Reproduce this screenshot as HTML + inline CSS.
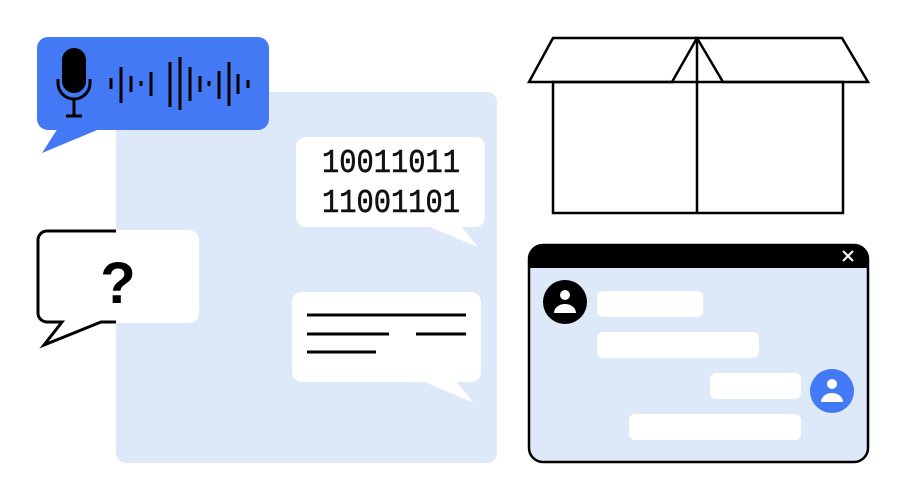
<!DOCTYPE html>
<html><head><style>
html,body{margin:0;padding:0;background:#fff;width:907px;height:500px;overflow:hidden}
</style></head><body>
<svg width="907" height="500" viewBox="0 0 907 500" xmlns="http://www.w3.org/2000/svg">
<rect x="116" y="92" width="381" height="371" rx="10" fill="#dde8f9"/>
<!-- blue voice bubble -->
<rect x="37" y="37" width="232" height="93" rx="11" fill="#4479f5"/>
<polygon points="58,128 102,128 42,153" fill="#4479f5"/>
<rect x="62" y="48" width="24" height="45" rx="12" fill="#000"/>
<path d="M58 79 v4 a16 16 0 0 0 32 0 v-4" fill="none" stroke="#000" stroke-width="3"/>
<line x1="74" y1="99" x2="74" y2="116" stroke="#000" stroke-width="3"/>
<line x1="66" y1="116" x2="82" y2="116" stroke="#000" stroke-width="3"/>
<g stroke="#000" stroke-width="3">
<line x1="111" y1="78" x2="111" y2="89"/>
<line x1="121" y1="67" x2="121" y2="103"/>
<line x1="131" y1="76" x2="131" y2="92"/>
<line x1="141" y1="81" x2="141" y2="86"/>
<line x1="151" y1="72" x2="151" y2="96"/>
<line x1="170" y1="62" x2="170" y2="107"/>
<line x1="180" y1="57" x2="180" y2="110"/>
<line x1="190" y1="67" x2="190" y2="101"/>
<line x1="200" y1="76" x2="200" y2="92"/>
<line x1="209" y1="81" x2="209" y2="86"/>
<line x1="219" y1="71" x2="219" y2="99"/>
<line x1="229" y1="62" x2="229" y2="106"/>
<line x1="238" y1="74" x2="238" y2="94"/>
<line x1="248" y1="80" x2="248" y2="88"/>
</g>
<!-- question bubble -->
<rect x="37" y="230" width="162" height="93" rx="10" fill="#fff"/>
<path d="M116 231 H47 a9 9 0 0 0 -9 9 V313 a9 9 0 0 0 9 9 H62 L44 345 L101 322 H116" fill="none" stroke="#000" stroke-width="3" stroke-linejoin="miter"/>
<text x="118" y="303" font-family="Liberation Sans, sans-serif" font-weight="bold" font-size="58" fill="#000" text-anchor="middle">?</text>
<!-- binary bubble -->
<rect x="296" y="137" width="189" height="90" rx="10" fill="#fff"/>
<polygon points="425,225 460,225 478,247" fill="#fff"/>
<g font-family="Liberation Mono, monospace" font-size="33" fill="#111" stroke="#111" stroke-width="0.6">
<text x="322" y="172" textLength="138" lengthAdjust="spacingAndGlyphs">10011011</text>
<text x="322" y="212" textLength="138" lengthAdjust="spacingAndGlyphs">11001101</text>
</g>
<!-- lines bubble -->
<rect x="292" y="292" width="189" height="90" rx="10" fill="#fff"/>
<polygon points="420,380 455,380 474,403" fill="#fff"/>
<g stroke="#000" stroke-width="3">
<line x1="307" y1="315" x2="466" y2="315"/>
<line x1="307" y1="334" x2="389" y2="334"/>
<line x1="416" y1="334" x2="466" y2="334"/>
<line x1="307" y1="352" x2="376" y2="352"/>
</g>
<!-- box -->
<g fill="none" stroke="#000" stroke-width="2.5" stroke-linejoin="miter">
<rect x="553" y="82" width="290" height="131"/>
<polygon points="553,38 697,38 672,82 529,82"/>
<polygon points="697,38 842,38 868,82 723,82"/>
<line x1="697" y1="38" x2="697" y2="213"/>
</g>
<!-- chat window -->
<rect x="529" y="245" width="339" height="217" rx="14" fill="#dde8f9" stroke="#000" stroke-width="2.5"/>
<path d="M543 245 H854 a14 14 0 0 1 14 14 V268 H529 V259 a14 14 0 0 1 14 -14 Z" fill="#000"/>
<g stroke="#fff" stroke-width="2"><line x1="843" y1="251" x2="853" y2="261"/><line x1="853" y1="251" x2="843" y2="261"/></g>
<circle cx="565" cy="302" r="22" fill="#000"/>
<circle cx="565" cy="295" r="5" fill="#fff"/>
<path d="M554 313 a11 9 0 0 1 22 0 Z" fill="#fff"/>
<circle cx="832" cy="391" r="22" fill="#4479f5"/>
<circle cx="832" cy="384" r="5" fill="#fff"/>
<path d="M821 402 a11 9 0 0 1 22 0 Z" fill="#fff"/>
<g fill="#fff">
<rect x="597" y="291" width="106" height="26" rx="6"/>
<rect x="597" y="332" width="162" height="26" rx="6"/>
<rect x="710" y="373" width="91" height="26" rx="6"/>
<rect x="629" y="414" width="172" height="26" rx="6"/>
</g>
</svg>
</body></html>
